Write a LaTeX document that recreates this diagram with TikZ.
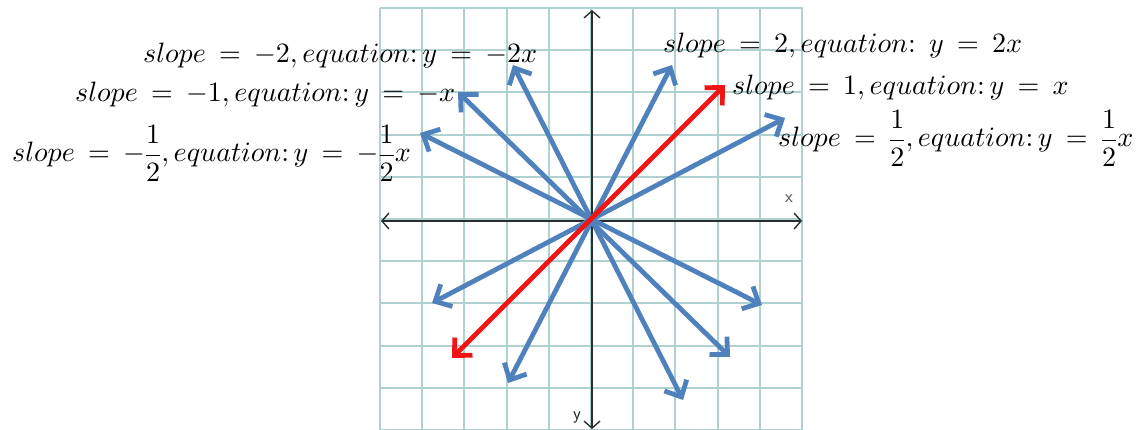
\documentclass[tikz,border=0pt]{standalone}
\usepackage{amsmath}
\usetikzlibrary{arrows.meta}
\DeclareFontFamily{OML}{cmm}{\skewchar\font127 }
\DeclareFontShape{OML}{cmm}{m}{it}{<->cmmi10}{}
\DeclareFontFamily{OMS}{cmsy}{\skewchar\font48 }
\DeclareFontShape{OMS}{cmsy}{m}{n}{<->cmsy10}{}
\DeclareFontFamily{OT1}{cmr}{\hyphenchar\font45 }
\DeclareFontShape{OT1}{cmr}{m}{n}{<->cmr10}{}
\definecolor{gridc}{RGB}{175,210,208}
\definecolor{arrblue}{RGB}{79,129,189}
\definecolor{arrred}{RGB}{240,20,20}
\definecolor{axisc}{RGB}{40,45,45}
\tikzset{
  gridline/.style={draw=gridc, line width=2pt},
  axisline/.style={draw=axisc, line width=2pt, {Straight Barb[length=7pt,width=16pt,line width=1.4pt]}-{Straight Barb[length=7pt,width=16pt,line width=1.4pt]}},
  vec/.style={line width=4.8pt, {Straight Barb[length=13pt,width=25pt]}-{Straight Barb[length=13pt,width=25pt]}},
  bluevec/.style={vec, draw=arrblue},
  redvec/.style={vec, draw=arrred},
  eqlabel/.style={anchor=base west, inner sep=0pt, font=\fontsize{28}{32}\selectfont},
  axlabel/.style={inner sep=0pt, text=black!65, font=\sffamily\fontsize{18}{19}\selectfont}
}
\begin{document}
\begin{tikzpicture}[x=1pt,y=-1pt]
\useasboundingbox (0,0) rectangle (1145,430);
\thickmuskip=8.5mu plus 2mu
% grid
\foreach \i in {0,...,10} {
  \draw[gridline] ({380+\i*42.2},8) -- ({380+\i*42.2},430);
  \draw[gridline] (380,{8+\i*42.2}) -- (803,{8+\i*42.2});
}
% axes
\coordinate (O) at (592,221);
\coordinate (xl) at (381,221);
\coordinate (xr) at (802,221);
\coordinate (yt) at (592,10);
\coordinate (yb) at (592,429);
\draw[axisline] (xl) -- (xr);
\draw[axisline] (yt) -- (yb);
\node[axlabel] (xlab) at (789,199) {x};
\node[axlabel, text=black!85] (ylab) at (577,417) {y};
% vectors
\coordinate (a2u) at (672,65);   \coordinate (a2d) at (508,383);
\coordinate (a1u) at (725,85);   \coordinate (a1d) at (452,358);
\coordinate (ahu) at (785,118);  \coordinate (ahd) at (432,303);
\coordinate (b2u) at (513,65);   \coordinate (b2d) at (683,400);
\coordinate (b1u) at (458,92);   \coordinate (b1d) at (730,357);
\coordinate (bhu) at (420,133);  \coordinate (bhd) at (762,305);
\draw[bluevec] (ahd) -- (ahu);
\draw[bluevec] (bhd) -- (bhu);
\draw[bluevec] (b1d) -- (b1u);
\draw[bluevec] (a2d) -- (a2u);
\draw[bluevec] (b2d) -- (b2u);
\draw[redvec] (a1d) -- (a1u);
% labels
\node[eqlabel] (lm2) at (143,63) {$slope=-2,equation{:}\,y=-2x$};
\node[eqlabel] (lm1) at (75,102) {$slope=-1,equation{:}\,y=-x$};
\node[eqlabel] (lmh) at (12,162) {$slope=-\dfrac{1}{2},equation{:}\,y=-\dfrac{1}{2}x$};
\node[eqlabel] (lp2) at (663,53) {$slope=2,equation{:}\;y=2x$};
\node[eqlabel] (lp1) at (732,95) {$slope=1,equation{:}\,y=x$};
\node[eqlabel] (lph) at (778,147) {$slope=\dfrac{1}{2},equation{:}\,y=\dfrac{1}{2}x$};
\end{tikzpicture}
\end{document}
